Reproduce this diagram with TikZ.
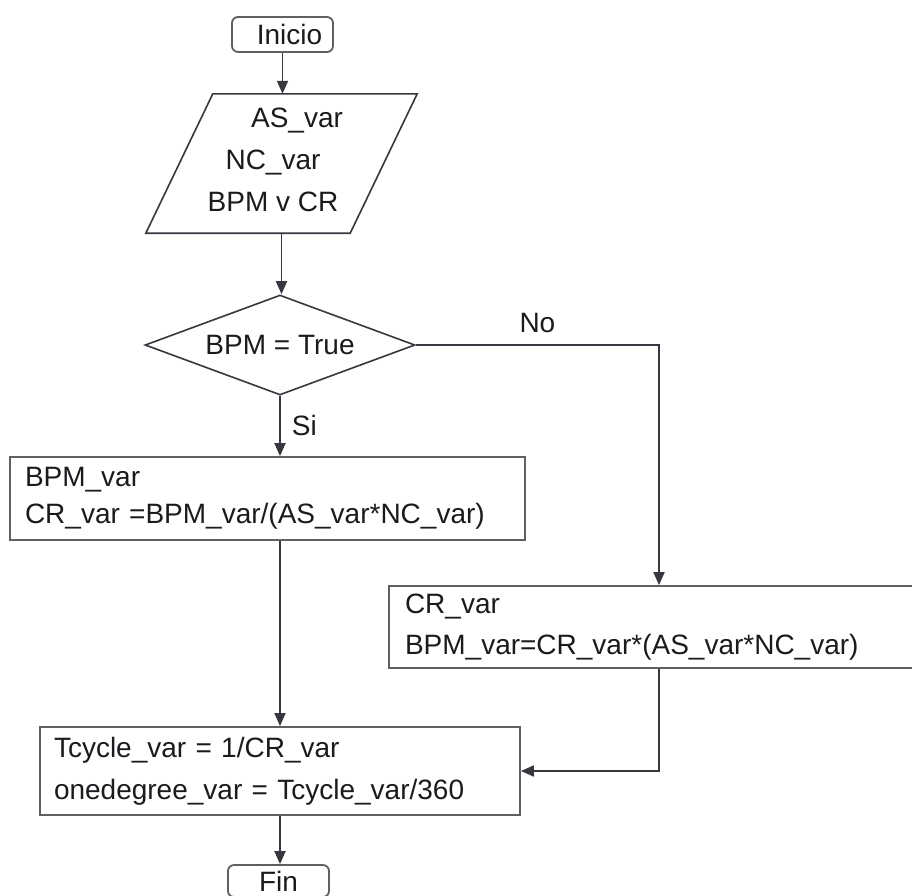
\documentclass[tikz,border=0pt]{standalone}
\usepackage{fontspec}
\setmainfont{Liberation Sans}
\usetikzlibrary{arrows.meta,shapes.geometric,calc}
\definecolor{linecol}{RGB}{58,54,64}
\definecolor{boxcol}{RGB}{95,95,100}
\definecolor{txtcol}{RGB}{28,26,30}
\begin{document}
\begin{tikzpicture}[x=1pt,y=-1pt,
  txt/.style={font=\fontsize{28}{42}\selectfont, text=txtcol},
  termbox/.style={txt, draw=boxcol, line width=1.8pt, rounded corners=6pt, minimum width=101pt, minimum height=35pt, inner sep=0pt},
  procbox/.style={txt, draw=boxcol, line width=1.8pt, align=left, inner ysep=0pt},
  decbox/.style={txt, draw=linecol, line width=1.6pt, diamond, aspect=2.7, minimum width=270pt, minimum height=100pt, inner sep=0pt},
  shapeline/.style={draw=linecol, line width=1.6pt},
  flow/.style={draw=linecol, line width=1.8pt, -{Triangle[length=13pt,width=11pt]}},
  lab/.style={txt, inner sep=0pt}]
\useasboundingbox (0,0) rectangle (912,895);
\fill[white] (0,0) rectangle (912,895);

% terminals
\node[termbox] (ini) at (282.5,34.5) {\hspace*{14pt}Inicio};
\node[termbox, minimum height=32pt] (fin) at (278.5,881) {Fin};

% input parallelogram
\node[inner sep=0pt, minimum width=137pt, minimum height=139pt] (inp) at (281.5,163.5) {};
\draw[shapeline] (inp.north west) -- ($(inp.north east)+(67,0)$) -- (inp.south east) -- ($(inp.south west)+(-67,0)$) -- cycle;
\node[txt, align=center] (inptxt) at (273,160) {\hspace*{48pt}AS\_var\\NC\_var\\BPM v CR};

% decision
\node[decbox] (dec) at (280,345) {BPM = True};

% process boxes
\node[procbox, text width=485pt, inner xsep=15pt, minimum height=83pt, font=\fontsize{28}{37}\selectfont] (bpm) at (267.5,498.5) {BPM\_var\\CR\_var =BPM\_var/(AS\_var*NC\_var)};
\node[procbox, text width=508pt, inner xsep=16pt, minimum height=82pt, font=\fontsize{28}{41}\selectfont] (cr) at (659,627) {CR\_var\\BPM\_var=CR\_var*(AS\_var*NC\_var)};
\node[procbox, text width=452pt, inner xsep=14pt, minimum height=88pt, font=\fontsize{28}{42}\selectfont] (tc) at (280,771) {Tcycle\_var = 1/CR\_var\\onedegree\_var = Tcycle\_var/360};

% connectors
\draw[flow] (ini.south) -- (ini.south |- inp.north);
\draw[flow] (inp.south) -- (inp.south |- dec.north);
\draw[flow] (dec.south) -- (dec.south |- bpm.north) node[lab, pos=0.5, right=11pt] (si) {Si};
\draw[flow] (dec.east) -| (cr.north) node[lab, pos=0.25, above=11pt] (no) {No};
\draw[flow] (dec.south |- bpm.south) -- (dec.south |- tc.north);
\draw[flow] (cr.south) |- (tc.east);
\draw[flow] (tc.south) -- (tc.south |- fin.north);
\end{tikzpicture}
\end{document}
